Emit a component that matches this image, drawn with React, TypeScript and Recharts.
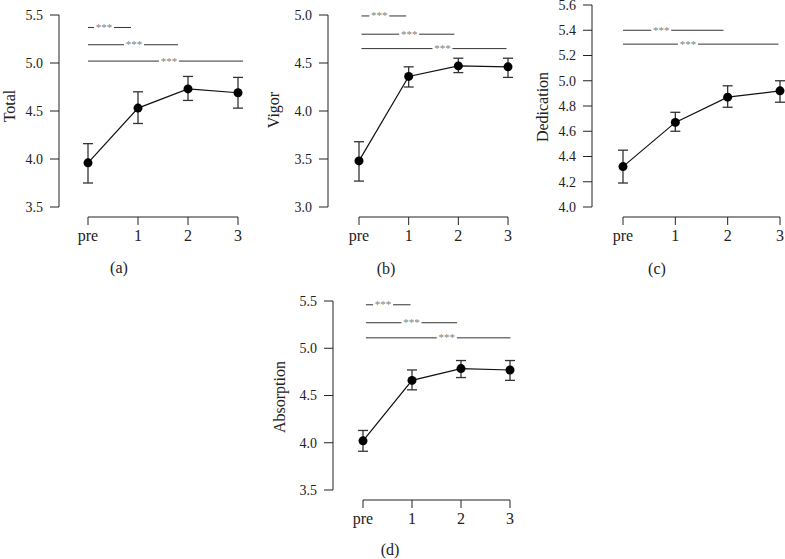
import React from "react";
import { LineChart, Line, XAxis, YAxis, ErrorBar, ReferenceLine } from "recharts";

const timePoints = [0, 1, 2, 3];
const timeLabels = ["pre", "1", "2", "3"];

const totalMean = [3.96, 4.53, 4.73, 4.69];
const totalLow = [3.75, 4.37, 4.61, 4.53];
const totalHigh = [4.16, 4.7, 4.86, 4.85];
const totalTicks = [3.5, 4.0, 4.5, 5.0, 5.5];
const totalSig = [
  { from: 0, to: 0.86, at: 0.32, y: 5.37 },
  { from: 0, to: 1.8, at: 0.92, y: 5.19 },
  { from: 0, to: 3.1, at: 1.62, y: 5.02 },
];

const vigorMean = [3.48, 4.36, 4.47, 4.46];
const vigorLow = [3.27, 4.25, 4.4, 4.35];
const vigorHigh = [3.68, 4.46, 4.55, 4.55];
const vigorTicks = [3.0, 3.5, 4.0, 4.5, 5.0];
const vigorSig = [
  { from: 0.05, to: 0.95, at: 0.41, y: 4.99 },
  { from: 0.05, to: 1.92, at: 1.01, y: 4.8 },
  { from: 0.05, to: 2.97, at: 1.68, y: 4.65 },
];

const dedicationMean = [4.32, 4.67, 4.87, 4.92];
const dedicationLow = [4.19, 4.6, 4.79, 4.83];
const dedicationHigh = [4.45, 4.75, 4.96, 5.0];
const dedicationTicks = [4.0, 4.2, 4.4, 4.6, 4.8, 5.0, 5.2, 5.4, 5.6];
const dedicationSig = [
  { from: 0, to: 1.92, at: 0.73, y: 5.4 },
  { from: 0, to: 2.97, at: 1.24, y: 5.29 },
];

const absorptionMean = [4.02, 4.66, 4.785, 4.77];
const absorptionLow = [3.91, 4.56, 4.69, 4.66];
const absorptionHigh = [4.13, 4.77, 4.87, 4.87];
const absorptionTicks = [3.5, 4.0, 4.5, 5.0, 5.5];
const absorptionSig = [
  { from: 0.06, to: 0.97, at: 0.41, y: 5.46 },
  { from: 0.06, to: 1.92, at: 0.99, y: 5.27 },
  { from: 0.06, to: 3.01, at: 1.71, y: 5.11 },
];

type Sig = { from: number; to: number; at: number; y: number };

type PanelSpec = {
  title: string;
  caption: string;
  mean: number[];
  low: number[];
  high: number[];
  ticks: number[];
  sig: Sig[];
  left: number;
  top: number;
  marginTop: number;
  marginRight: number;
  yLen: number;
  padLeft: number;
  xLen: number;
  padRight: number;
  titleDx: number;
  titleDy: number;
  captionX: number;
  captionY: number;
};

const ink = "#222";
const serif = '"Liberation Serif", "DejaVu Serif", serif';
const marginLeft = 10;

function SigLabel(props: any) {
  const { viewBox, from, to, at } = props;
  if (!viewBox) return null;
  const frac = (at - from) / (to - from);
  const cx = viewBox.x + viewBox.width * frac;
  const y = viewBox.y;
  return (
    <g>
      <rect x={cx - 10} y={y - 2} width={20} height={4} fill="#fff" />
      <text x={cx} y={y + 3.5} textAnchor="middle" fontSize={11} fontFamily={serif} fill="#808080">
        ***
      </text>
    </g>
  );
}

function Panel({ p }: { p: PanelSpec }) {
  const rows = timePoints.map((t, i) => ({
    t,
    mean: p.mean[i],
    err: [p.mean[i] - p.low[i], p.high[i] - p.mean[i]],
  }));
  const width = marginLeft + 59 + p.padLeft + p.xLen + p.padRight + p.marginRight;
  const height = p.marginTop + p.yLen + 10 + 30;
  const domain = [p.ticks[0], p.ticks[p.ticks.length - 1]];

  return (
    <div style={{ position: "absolute", left: p.left - marginLeft, top: p.top }}>
      <LineChart
        width={width}
        height={height}
        data={rows}
        margin={{ top: p.marginTop, right: p.marginRight, bottom: 0, left: marginLeft }}
        style={{ fontFamily: serif }}
      >
        <XAxis
          dataKey="t"
          type="number"
          domain={[0, 3]}
          ticks={timePoints}
          tickFormatter={(v: number) => timeLabels[v]}
          padding={{ left: p.padLeft, right: p.padRight }}
          height={30}
          tickSize={8}
          tickMargin={5}
          interval={0}
          axisLine={{ stroke: ink, strokeDasharray: `0 ${p.padLeft} ${p.xLen} 1000` }}
          tickLine={{ stroke: ink }}
          tick={{ fill: ink, fontSize: 16, fontFamily: serif }}
        />
        <YAxis
          type="number"
          domain={domain}
          ticks={p.ticks}
          tickFormatter={(v: number) => v.toFixed(1)}
          width={59}
          padding={{ top: 0, bottom: 10 }}
          tickSize={9}
          tickMargin={7}
          interval={0}
          axisLine={{ stroke: ink, strokeDasharray: `${p.yLen} 1000` }}
          tickLine={{ stroke: ink }}
          tick={{ fill: ink, fontSize: 14, fontFamily: serif }}
          label={{
            value: p.title,
            angle: -90,
            position: "center",
            dx: p.titleDx,
            dy: p.titleDy,
            fill: ink,
            fontSize: 16,
            fontFamily: serif,
          }}
        />
        {p.sig.map((s, i) => (
          <ReferenceLine
            key={i}
            segment={[
              { x: s.from, y: s.y },
              { x: s.to, y: s.y },
            ]}
            stroke="#333"
            strokeWidth={1}
            ifOverflow="visible"
            label={<SigLabel from={s.from} to={s.to} at={s.at} />}
          />
        ))}
        <Line
          dataKey="mean"
          stroke="#111"
          strokeWidth={1.2}
          dot={{ r: 4.5, fill: "#000", stroke: "#000", strokeWidth: 0 }}
          activeDot={false}
          isAnimationActive={false}
        >
          <ErrorBar
            dataKey="err"
            direction="y"
            width={5}
            stroke="#333"
            strokeWidth={1.3}
            isAnimationActive={false}
          />
        </Line>
      </LineChart>
      <div
        style={{
          position: "absolute",
          left: p.captionX - p.left + marginLeft - 20,
          top: p.captionY - p.top - 9,
          width: 40,
          textAlign: "center",
          fontSize: 16,
          lineHeight: "18px",
          color: ink,
        }}
      >
        {p.caption}
      </div>
    </div>
  );
}

const panels: PanelSpec[] = [
  {
    title: "Total", caption: "(a)", mean: totalMean, low: totalLow, high: totalHigh,
    ticks: totalTicks, sig: totalSig, left: 0, top: 0, marginTop: 15, marginRight: 6,
    yLen: 192, padLeft: 29, xLen: 150, padRight: 6, titleDx: -20.5, titleDy: -10,
    captionX: 119, captionY: 268,
  },
  {
    title: "Vigor", caption: "(b)", mean: vigorMean, low: vigorLow, high: vigorHigh,
    ticks: vigorTicks, sig: vigorSig, left: 269, top: 0, marginTop: 15, marginRight: 4,
    yLen: 192, padLeft: 31, xLen: 149, padRight: 4, titleDx: -25.5, titleDy: -6,
    captionX: 386, captionY: 269,
  },
  {
    title: "Dedication", caption: "(c)", mean: dedicationMean, low: dedicationLow, high: dedicationHigh,
    ticks: dedicationTicks, sig: dedicationSig, left: 533, top: 0, marginTop: 5, marginRight: 1,
    yLen: 202, padLeft: 31, xLen: 157, padRight: 4, titleDx: -20.5, titleDy: -4,
    captionX: 657, captionY: 269,
  },
  {
    title: "Absorption", caption: "(d)", mean: absorptionMean, low: absorptionLow, high: absorptionHigh,
    ticks: absorptionTicks, sig: absorptionSig, left: 274, top: 286, marginTop: 15, marginRight: 4,
    yLen: 189, padLeft: 30, xLen: 147, padRight: 3, titleDx: -24.5, titleDy: -3.5,
    captionX: 390, captionY: 550,
  },
];

export default function App() {
  return (
    <div
      style={{
        position: "absolute",
        left: 0,
        top: 0,
        width: 785,
        height: 559,
        overflow: "hidden",
        background: "#fff",
        fontFamily: serif,
      }}
    >
      {panels.map((p) => (
        <Panel key={p.title} p={p} />
      ))}
    </div>
  );
}
